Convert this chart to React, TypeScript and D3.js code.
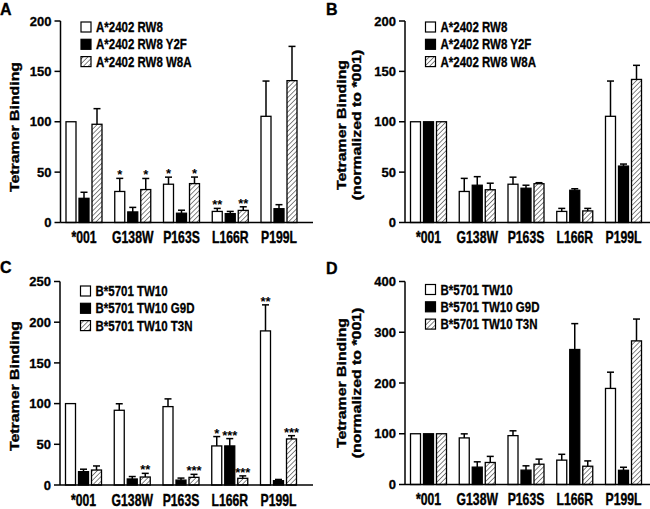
import React from 'react';
import * as d3 from 'd3';

const categories = ['*001', 'G138W', 'P163S', 'L166R', 'P199L'];

const seriesA = ['A*2402 RW8', 'A*2402 RW8 Y2F', 'A*2402 RW8 W8A'];
const seriesC = ['B*5701 TW10', 'B*5701 TW10 G9D', 'B*5701 TW10 T3N'];

// Panel A
const aRW8 = [100, 30.8, 38, 11, 105.4];
const aRW8Err = [0, 13, 7, 3, 35];
const aY2F = [24, 10.5, 9.2, 8.8, 13.7];
const aY2FErr = [6, 4.5, 3, 2.2, 4];
const aW8A = [97.5, 32.7, 38.6, 12, 140.8];
const aW8AErr = [15.5, 11, 6.5, 3.6, 34];
const aRW8Sig = ['', '*', '*', '**', ''];
const aY2FSig = ['', '', '', '', ''];
const aW8ASig = ['', '*', '*', '**', ''];

// Panel B
const bRW8 = [100, 30.8, 38, 11, 105.4];
const bRW8Err = [0, 13, 7, 3, 35];
const bY2F = [100, 37, 34, 32, 56];
const bY2FErr = [0, 8.5, 3, 1.5, 2];
const bW8A = [100, 32.5, 38.5, 11.5, 142];
const bW8AErr = [0, 6.5, 1, 2.5, 14];
const noSig = ['', '', '', '', ''];

// Panel C
const cTW10 = [100, 91.8, 96.3, 48, 189.3];
const cTW10Err = [0, 8, 9.5, 11.5, 32];
const cG9D = [16.4, 7.4, 6, 48, 5.3];
const cG9DErr = [3, 3, 2.5, 9, 1.5];
const cT3N = [18.4, 9.8, 9.4, 8.2, 56.6];
const cT3NErr = [5, 4.5, 3.7, 3, 4];
const cTW10Sig = ['', '', '', '*', '**'];
const cG9DSig = ['', '', '', '***', ''];
const cT3NSig = ['', '**', '***', '***', '***'];

// Panel D
const dTW10 = [100, 91.8, 96.3, 48, 189.3];
const dTW10Err = [0, 8, 9.5, 11.5, 32];
const dG9D = [100, 34.2, 28.3, 266, 28];
const dG9DErr = [0, 10.5, 8.5, 51, 6];
const dT3N = [100, 43.4, 40, 36, 283];
const dT3NErr = [0, 12, 10, 10.5, 43];

const FONT = "'Liberation Sans', Arial, Helvetica, sans-serif";
const fills = ['#ffffff', '#000000', 'url(#hatch)'];

type Cfg = {
  label: string; lx: number; ly: number;
  ax: number; zeroY: number; topY: number; max: number; step: number; axisEnd: number;
  titles: string[]; titleX: number[]; titleY: number;
  legendTop: number;
  names: string[];
  values: number[][]; errs: number[][]; sigs: string[][];
};

const panels: Cfg[] = [
  {
    label: 'A', lx: 0, ly: 15, ax: 60.5, zeroY: 222.5, topY: 21, max: 200, step: 50, axisEnd: 313,
    titles: ['Tetramer Binding'], titleX: [18.5], titleY: 127, legendTop: 22, names: seriesA,
    values: [aRW8, aY2F, aW8A], errs: [aRW8Err, aY2FErr, aW8AErr], sigs: [aRW8Sig, aY2FSig, aW8ASig],
  },
  {
    label: 'B', lx: 326, ly: 15, ax: 405, zeroY: 222.5, topY: 21, max: 200, step: 50, axisEnd: 650,
    titles: ['Tetramer Binding', '(normalized to *001)'], titleX: [346, 360.5], titleY: 125, legendTop: 22, names: seriesA,
    values: [bRW8, bY2F, bW8A], errs: [bRW8Err, bY2FErr, bW8AErr], sigs: [noSig, noSig, noSig],
  },
  {
    label: 'C', lx: 0, ly: 273, ax: 60, zeroY: 485, topY: 281.5, max: 250, step: 50, axisEnd: 313,
    titles: ['Tetramer Binding'], titleX: [18.5], titleY: 386, legendTop: 286, names: seriesC,
    values: [cTW10, cG9D, cT3N], errs: [cTW10Err, cG9DErr, cT3NErr], sigs: [cTW10Sig, cG9DSig, cT3NSig],
  },
  {
    label: 'D', lx: 326, ly: 274, ax: 405, zeroY: 484.5, topY: 281.5, max: 400, step: 100, axisEnd: 650,
    titles: ['Tetramer Binding', '(normalized to *001)'], titleX: [346, 360.5], titleY: 383, legendTop: 284.5, names: seriesC,
    values: [dTW10, dG9D, dT3N], errs: [dTW10Err, dG9DErr, dT3NErr], sigs: [noSig, noSig, noSig],
  },
];

function Panel({ cfg }: { cfg: Cfg }) {
  const y = d3.scaleLinear().domain([0, cfg.max]).range([cfg.zeroY, cfg.topY]);
  const x0 = d3.scaleBand<string>().domain(categories)
    .range([cfg.ax + 5.5, cfg.ax + 236.5]).paddingInner(0.2615).paddingOuter(0);
  const x1 = d3.scaleBand<string>().domain(['0', '1', '2'])
    .range([0, x0.bandwidth()]).paddingInner(0.2308).paddingOuter(0);
  const ticks = d3.range(0, cfg.max + 1, cfg.step);
  const bw = x1.bandwidth();

  return (
    <g fontFamily={FONT} fontWeight="bold">
      <g stroke="#000" strokeWidth={0.35}>
        <text x={cfg.lx} y={cfg.ly} fontSize={16}>{cfg.label}</text>
        {cfg.titles.map((t, i) => (
          <text key={t} fontSize={12.5} textAnchor="middle"
            transform={`translate(${cfg.titleX[i]},${cfg.titleY}) rotate(-90) scale(1.27,1)`}>{t}</text>
        ))}
      </g>
      {cfg.values.map((vals, s) => (
        <g key={'s' + s}>
          {vals.map((v, i) => {
            const bx = (x0(categories[i]) as number) + (x1(String(s)) as number);
            const cx = bx + bw / 2;
            const top = y(v);
            const e = cfg.errs[s][i];
            const et = y(v + e);
            const sig = cfg.sigs[s][i];
            return (
              <g key={i}>
                <rect x={bx} y={top} width={bw} height={cfg.zeroY - top}
                  fill={fills[s]} stroke="#000" strokeWidth={1.3} />
                {e > 0 && (
                  <g stroke="#000" strokeWidth={1.5}>
                    <line x1={cx} x2={cx} y1={top} y2={et} />
                    <line x1={cx - 3.5} x2={cx + 3.5} y1={et} y2={et} />
                  </g>
                )}
                {sig && (
                  <text x={cx} y={et + 1} fontSize={13} textAnchor="middle">{sig}</text>
                )}
              </g>
            );
          })}
        </g>
      ))}
      <g stroke="#000" strokeWidth={1.5}>
        <line x1={cfg.ax} x2={cfg.ax} y1={cfg.topY} y2={cfg.zeroY} />
        <line x1={cfg.ax} x2={cfg.axisEnd} y1={cfg.zeroY} y2={cfg.zeroY} />
        {ticks.map(t => (
          <line key={t} x1={cfg.ax - 6} x2={cfg.ax} y1={y(t)} y2={y(t)} />
        ))}
      </g>
      <g stroke="#000" strokeWidth={0.3}>
        {ticks.map(t => (
          <text key={'l' + t} x={cfg.ax - 9} y={y(t)} dy="0.36em" fontSize={13} textAnchor="end">{t}</text>
        ))}
        {categories.map(c => (
          <text key={c} fontSize={12.2} textAnchor="middle"
            transform={`translate(${(x0(c) as number) + x0.bandwidth() / 2},${cfg.zeroY + 20.5}) scale(1,1.3)`}>{c}</text>
        ))}
      </g>
      {cfg.names.map((n, s) => {
        const ry = cfg.legendTop + s * 17.3;
        return (
          <g key={n}>
            <rect x={cfg.ax + 20.5} y={ry} width={10} height={10} fill={fills[s]} stroke="#000" strokeWidth={1.2} />
            <text fontSize={11.5} stroke="#000" strokeWidth={0.25}
              transform={`translate(${cfg.ax + 35.5},${ry + 10}) scale(1,1.22)`}>{n}</text>
          </g>
        );
      })}
    </g>
  );
}

export default function App() {
  return (
    <svg width={650} height={509} style={{ position: 'absolute', left: 0, top: 0, background: '#fff' }}>
      <defs>
        <pattern id="hatch" patternUnits="userSpaceOnUse" width={3.4} height={3.4} patternTransform="rotate(45)">
          <rect width={3.4} height={3.4} fill="#fff" />
          <line x1={0} y1={0} x2={0} y2={3.4} stroke="#222" strokeWidth={1.1} />
        </pattern>
      </defs>
      <rect width={650} height={509} fill="#fff" />
      {panels.map(p => <Panel key={p.label} cfg={p} />)}
    </svg>
  );
}
